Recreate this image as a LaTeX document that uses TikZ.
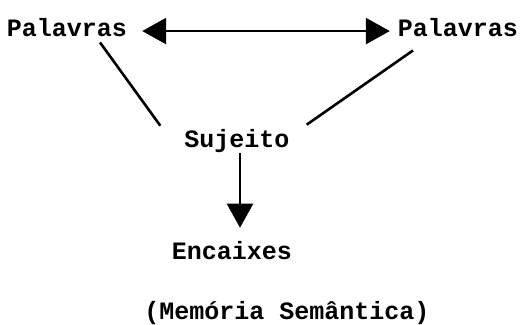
\documentclass[tikz,border=0pt]{standalone}
\usepackage{fontspec}
\setmonofont{Liberation Mono}
\usetikzlibrary{arrows.meta}

\begin{document}
\begin{tikzpicture}[x=1pt,y=1pt,
		palavra/.style={inner sep=0pt,anchor=base,font=\ttfamily\bfseries\fontsize{25}{30}\selectfont},
		ligacao/.style={line width=2.6pt},
		seta/.style={line width=2.6pt,-{Triangle[length=24pt,width=26pt]}}]
		\useasboundingbox (0,0) rectangle (527,324);
		
		\node[palavra](pl) at (67,287){Palavras};
		\node[palavra](pr) at (458,287){Palavras};
		\node[palavra](sj) at (237,176){Sujeito};
		\node[palavra](en) at (232,64){Encaixes};
		\node[palavra](ms) at (287,5){(Memória Semântica)};
		
		\draw[seta,{Triangle[length=24pt,width=26pt]}-{Triangle[length=24pt,width=26pt]},shorten <=15pt,shorten >=8pt] ([yshift=-3pt]pl.east) -- ([yshift=-3pt]pr.west);
		\draw[ligacao] ([xshift=33pt,yshift=-5pt]pl.south) -- ([xshift=-24pt,yshift=4pt]sj.north west);
		\draw[ligacao] ([xshift=-45pt,yshift=-13pt]pr.south) -- ([xshift=17pt,yshift=5pt]sj.north east);
		\draw[seta,shorten >=14pt] ([xshift=3pt]sj.south) -- ([xshift=8pt]en.north);
	\end{tikzpicture}
\end{document}
